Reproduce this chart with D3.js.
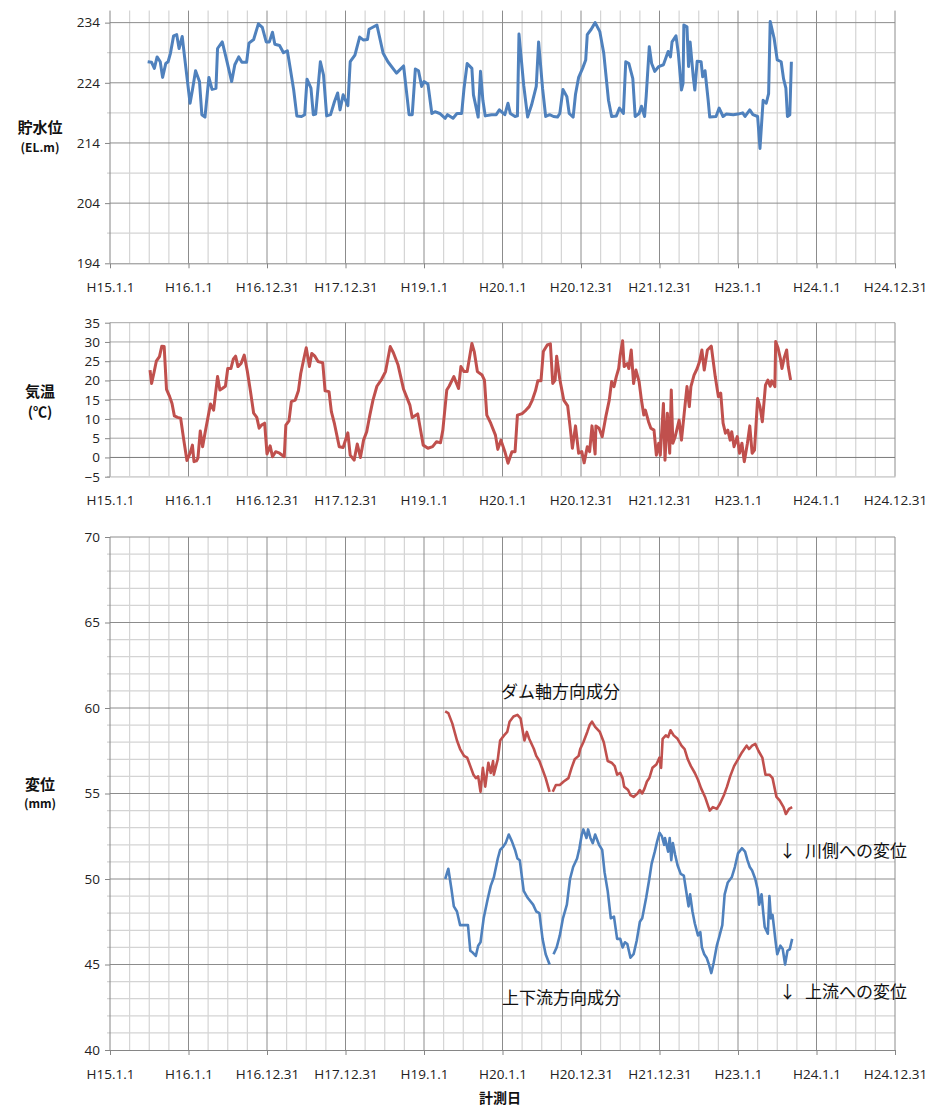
<!DOCTYPE html>
<html lang="ja">
<head>
<meta charset="utf-8">
<script src="https://d3js.org/d3.v7.min.js"></script>
<style>
  body { margin: 0; background: #fff; }
  svg { display: block; }
  .tick text { font-family: "Open Sans", "Liberation Sans", sans-serif; font-size: 13.5px; fill: #222; }
  .ttl { font-family: "Noto Sans CJK JP", sans-serif; font-weight: bold; fill: #111; }
  .note { font-family: "Noto Sans CJK JP", sans-serif; font-size: 17px; fill: #111; }
</style>
</head>
<body>
<svg id="chart" width="930" height="1115"></svg>
<script>
// x values are years counted from H15.1.1
const xTickLabels = ['H15.1.1', 'H16.1.1', 'H16.12.31', 'H17.12.31', 'H19.1.1', 'H20.1.1',
  'H20.12.31', 'H21.12.31', 'H23.1.1', 'H24.1.1', 'H24.12.31'];

// 貯水位 (EL.m)
const levelYears = [0.48,0.53,0.565,0.60,0.64,0.67,0.71,0.74,0.77,0.81,0.85,0.88,0.92,0.95,1.02,1.05,1.09,1.14,1.17,1.21,
  1.26,1.30,1.35,1.37,1.43,1.48,1.55,1.59,1.64,1.68,1.74,1.77,1.83,1.89,1.94,1.99,2.03,2.07,2.10,2.16,
  2.21,2.26,2.30,2.34,2.38,2.44,2.48,2.51,2.56,2.59,2.62,2.68,2.72,2.76,2.81,2.86,2.90,2.93,2.97,3.03,
  3.06,3.12,3.18,3.23,3.28,3.30,3.40,3.48,3.54,3.65,3.74,3.81,3.85,3.89,3.93,3.97,4.00,4.05,4.10,4.14,
  4.20,4.27,4.30,4.37,4.42,4.48,4.51,4.55,4.61,4.63,4.69,4.72,4.75,4.78,4.86,4.92,4.96,5.03,5.07,5.10,
  5.16,5.19,5.21,5.27,5.32,5.37,5.43,5.46,5.51,5.55,5.60,5.65,5.70,5.73,5.77,5.82,5.85,5.90,5.93,5.97,
  6.02,6.06,6.08,6.13,6.18,6.24,6.29,6.35,6.39,6.45,6.49,6.54,6.57,6.61,6.66,6.69,6.74,6.77,6.81,6.83,
  6.87,6.90,6.94,6.99,7.05,7.11,7.14,7.16,7.21,7.24,7.28,7.30,7.31,7.35,7.37,7.39,7.43,7.45,7.48,7.53,
  7.55,7.58,7.62,7.64,7.72,7.76,7.81,7.85,7.94,8.00,8.06,8.09,8.15,8.19,8.25,8.28,8.32,8.36,8.39,8.41,
  8.46,8.50,8.55,8.58,8.61,8.63,8.66,8.68];
const levelValues = [227.5,227.4,226.4,228.3,227.5,224.9,227.2,227.5,228.9,231.8,232.0,229.7,231.7,228.3,220.6,222.8,226.0,224.2,218.7,218.3,
  224.9,222.9,223.1,229.7,230.8,228.1,224.2,227.0,228.3,227.4,227.4,230.6,231.2,233.8,233.2,230.8,230.8,232.4,230.4,230.2,
  229.0,229.3,226.1,222.8,218.5,218.4,218.7,224.6,223.1,218.7,218.8,227.5,225.3,218.5,218.7,220.9,222.3,219.5,222.0,220.2,
  227.5,228.6,231.6,231.1,231.2,232.9,233.6,228.9,227.5,225.6,226.8,218.7,218.7,226.3,226.0,223.4,224.2,223.8,218.9,219.2,
  218.9,218.1,218.7,218.1,218.9,218.9,223.1,227.2,226.4,222.0,218.3,225.9,221.1,218.5,218.7,218.7,219.5,218.7,220.6,218.9,
  218.4,218.5,232.1,223.6,218.3,220.3,223.4,230.8,223.1,218.4,218.7,218.4,218.3,218.9,222.9,221.7,218.9,218.3,222.1,224.9,
  226.4,227.8,232.0,232.9,234.0,232.5,228.9,221.1,218.4,218.5,219.8,218.9,227.5,227.2,224.7,218.4,218.9,220.1,218.4,221.7,
  230.0,227.2,225.9,226.7,227.0,229.2,228.3,230.8,231.8,228.9,222.8,223.9,233.6,233.3,226.7,230.8,225.0,222.8,227.6,227.5,
  225.0,226.0,221.1,218.3,218.4,219.8,218.4,218.8,218.7,218.8,219.0,218.4,219.5,218.7,218.4,213.1,221.1,220.6,222.2,234.2,
  231.4,227.8,227.5,224.7,223.1,218.4,218.7,227.5];

// 気温 (℃)
const tempYears = [0.51,0.53,0.56,0.59,0.63,0.66,0.69,0.72,0.76,0.79,0.82,0.86,0.90,0.94,0.98,1.02,1.05,1.07,1.10,1.12,
  1.15,1.18,1.21,1.25,1.28,1.32,1.34,1.37,1.40,1.43,1.47,1.50,1.54,1.57,1.60,1.63,1.67,1.71,1.75,1.79,
  1.83,1.87,1.90,1.93,1.97,2.00,2.04,2.07,2.11,2.16,2.22,2.24,2.28,2.31,2.36,2.40,2.43,2.47,2.50,2.54,
  2.57,2.61,2.65,2.71,2.74,2.79,2.82,2.86,2.92,2.97,3.03,3.06,3.11,3.15,3.19,3.23,3.27,3.31,3.35,3.40,
  3.46,3.51,3.57,3.61,3.67,3.74,3.82,3.85,3.92,3.96,3.99,4.05,4.11,4.16,4.21,4.24,4.29,4.32,4.38,4.44,
  4.47,4.51,4.55,4.61,4.64,4.68,4.74,4.77,4.80,4.85,4.91,4.94,4.98,5.03,5.07,5.12,5.16,5.19,5.25,5.30,
  5.34,5.38,5.42,5.45,5.49,5.52,5.57,5.61,5.64,5.67,5.69,5.73,5.78,5.83,5.86,5.89,5.93,5.97,6.01,6.04,
  6.08,6.11,6.14,6.18,6.19,6.23,6.27,6.32,6.36,6.39,6.42,6.45,6.48,6.50,6.53,6.55,6.59,6.61,6.64,6.67,
  6.70,6.74,6.77,6.80,6.82,6.86,6.89,6.93,6.96,6.99,7.01,7.05,7.07,7.10,7.13,7.15,7.17,7.20,7.25,7.28,
  7.33,7.35,7.38,7.40,7.44,7.48,7.51,7.54,7.57,7.61,7.66,7.68,7.71,7.75,7.78,7.81,7.84,7.87,7.90,7.92,
  7.95,7.99,8.02,8.05,8.08,8.12,8.15,8.18,8.21,8.25,8.28,8.31,8.35,8.38,8.41,8.43,8.47,8.48,8.51,8.54,
  8.56,8.59,8.62,8.64,8.67];
const tempValues = [22.7,19.2,22.0,25.0,26.2,28.9,28.8,17.7,15.8,14.0,10.8,10.4,10.2,4.5,-0.8,1.1,3.2,-1.1,-0.9,-0.2,
  6.9,2.8,6.3,10.6,13.9,12.3,15.8,21.0,17.5,17.9,18.5,23.1,23.1,25.5,26.3,23.6,24.4,26.6,22.3,17.1,
  11.5,10.4,7.6,8.4,8.9,0.9,3.0,0.2,1.5,1.1,0.2,8.4,9.5,14.5,14.9,17.3,21.8,25.7,28.5,23.6,
  27.0,26.3,24.9,24.6,17.3,17.1,11.9,8.7,2.8,2.6,6.4,0.6,-0.7,3.5,0.0,4.5,6.7,11.0,14.9,18.5,
  20.3,22.3,28.8,27.2,24.0,17.7,13.6,10.4,11.3,6.7,3.2,2.4,2.8,4.1,3.8,7.1,17.5,18.5,21.0,17.9,
  23.6,22.3,22.3,29.6,27.5,22.3,21.4,20.1,11.0,8.9,5.8,2.1,4.5,1.5,-1.5,1.5,1.5,11.0,11.4,12.3,
  13.2,14.9,17.3,19.9,19.9,27.5,29.2,29.5,19.2,20.1,26.3,20.3,14.9,13.4,8.2,2.4,8.2,1.1,1.5,-1.4,
  2.8,1.5,8.2,0.9,8.2,7.6,5.4,11.0,14.9,19.7,18.4,21.0,23.1,26.6,30.3,23.6,24.4,23.1,27.9,19.2,
  22.7,19.7,14.9,11.0,12.3,9.3,7.6,7.1,0.6,3.7,0.6,14.0,-0.7,11.5,1.1,17.5,3.7,5.4,9.7,4.5,
  14.5,18.4,13.2,18.4,21.4,23.1,24.9,27.9,22.7,27.9,28.9,25.7,21.0,15.8,16.7,8.9,6.3,7.1,4.5,6.7,
  2.8,5.4,1.1,3.7,-1.1,3.7,8.2,1.1,1.9,15.3,13.2,9.3,18.8,20.1,18.5,19.9,18.4,30.1,28.4,25.7,
  23.1,26.0,27.9,23.6,20.1];

// 変位 (mm) ダム軸方向成分, null = 欠測
const axialYears = [4.27,4.31,4.36,4.42,4.46,4.51,4.55,4.59,4.63,4.66,4.69,4.72,4.75,4.78,4.82,4.85,4.88,4.89,4.94,4.97,
  5.02,5.06,5.09,5.14,5.19,5.23,5.26,5.28,5.31,5.34,5.40,5.43,5.47,5.51,5.55,5.60,5.62,5.64,5.68,5.73,
  5.78,5.84,5.88,5.92,5.97,5.99,6.03,6.08,6.11,6.14,6.18,6.24,6.29,6.34,6.39,6.43,6.46,6.50,6.53,6.55,
  6.60,6.63,6.67,6.72,6.75,6.78,6.81,6.84,6.87,6.91,6.96,7.00,7.02,7.04,7.08,7.11,7.14,7.18,7.23,7.28,
  7.32,7.36,7.40,7.45,7.49,7.53,7.58,7.64,7.68,7.73,7.77,7.82,7.86,7.90,7.95,8.00,8.05,8.11,8.14,8.18,
  8.22,8.26,8.31,8.35,8.40,8.44,8.49,8.53,8.58,8.61,8.65,8.69];
const axialValues = [59.8,59.7,59.1,58.1,57.6,57.2,57.1,56.6,56.1,55.9,56.0,55.1,56.5,55.4,56.8,56.2,56.9,56.1,57.0,58.1,
  58.4,58.6,59.2,59.5,59.6,59.4,58.6,58.1,58.6,58.2,57.6,57.2,56.9,56.4,55.9,55.1,null,55.1,55.5,55.5,
  55.7,55.9,56.5,57.0,57.2,57.6,58.0,58.6,59.0,59.2,58.9,58.6,58.0,56.9,56.8,56.6,56.1,56.2,55.9,55.4,
  55.2,54.9,54.8,55.0,55.2,55.0,55.3,55.7,55.9,56.5,56.7,57.1,56.5,58.2,58.4,58.3,58.7,58.4,58.2,57.8,
  57.6,57.0,56.6,56.2,55.8,55.3,54.8,54.0,54.2,54.1,54.4,54.9,55.4,56.0,56.6,57.0,57.4,57.8,57.6,57.8,
  57.9,57.5,57.1,56.1,56.1,55.9,54.8,54.6,54.2,53.8,54.1,54.2];

// 変位 (mm) 上下流方向成分
const streamYears = [4.27,4.31,4.35,4.38,4.42,4.46,4.53,4.56,4.59,4.62,4.66,4.69,4.72,4.76,4.81,4.85,4.89,4.94,4.97,5.01,
  5.04,5.08,5.12,5.16,5.19,5.22,5.27,5.32,5.39,5.43,5.47,5.51,5.55,5.60,5.62,5.65,5.69,5.73,5.77,5.82,
  5.86,5.90,5.95,5.98,6.01,6.03,6.07,6.09,6.12,6.15,6.18,6.23,6.27,6.30,6.34,6.38,6.42,6.46,6.50,6.53,
  6.56,6.59,6.63,6.67,6.71,6.75,6.78,6.83,6.87,6.90,6.94,6.97,7.00,7.03,7.06,7.07,7.11,7.13,7.15,7.17,
  7.20,7.23,7.27,7.31,7.34,7.37,7.39,7.42,7.45,7.49,7.52,7.54,7.57,7.60,7.63,7.66,7.69,7.73,7.76,7.80,
  7.83,7.87,7.92,7.96,8.00,8.05,8.09,8.12,8.15,8.18,8.22,8.25,8.27,8.30,8.32,8.34,8.38,8.40,8.42,8.44,
  8.48,8.50,8.54,8.57,8.60,8.63,8.66,8.69];
const streamValues = [50.0,50.6,49.4,48.4,48.1,47.3,47.3,47.3,45.8,45.7,45.5,46.1,46.3,47.7,48.8,49.6,50.1,51.2,51.7,51.9,
  52.1,52.6,52.2,51.7,51.2,51.1,49.3,48.9,48.5,48.1,48.0,46.5,45.6,45.0,null,45.6,46.0,46.7,47.7,48.5,
  50.0,50.7,51.2,51.8,52.6,52.9,52.4,52.9,52.4,52.1,52.6,52.0,51.7,50.4,49.3,47.7,47.8,46.5,46.5,46.0,
  46.3,46.2,45.4,45.6,46.4,47.5,47.7,48.9,50.0,50.9,51.6,52.2,52.7,52.5,52.0,52.4,51.6,52.4,51.1,52.1,
  51.4,50.8,50.3,50.2,49.3,48.4,49.1,48.1,47.4,46.7,46.9,46.0,45.6,45.4,45.0,44.5,45.1,46.1,46.6,47.3,
  49.1,49.8,50.1,50.7,51.5,51.8,51.6,51.1,50.7,50.5,50.0,49.4,48.5,49.1,48.1,47.2,46.8,49.0,47.7,47.9,
  46.3,45.6,46.1,45.9,45.0,45.8,45.9,46.5];

const svg = d3.select('#chart');
const x = d3.scaleLinear().domain([0, 10]).range([110, 895]);

function drawPanel(p) {
  const y = d3.scaleLinear().domain(p.yDomain).range(p.yRange);
  const g = svg.append('g');

  // minor vertical grid (quarters)
  g.selectAll('.vmin').data(d3.range(0, 10.01, 0.25).filter(v => v % 1 !== 0))
    .enter().append('line')
    .attr('x1', d => x(d)).attr('x2', d => x(d))
    .attr('y1', y(p.yDomain[1])).attr('y2', y(p.yDomain[0]))
    .attr('stroke', '#d4d4d4').attr('stroke-width', 1.2);

  // horizontal grid
  g.selectAll('.hmin').data(p.minorY)
    .enter().append('line')
    .attr('x1', x(0) - 3).attr('x2', x(10))
    .attr('y1', d => y(d)).attr('y2', d => y(d))
    .attr('stroke', '#d4d4d4').attr('stroke-width', 1.2);
  g.selectAll('.hmaj').data(p.majorY)
    .enter().append('line')
    .attr('x1', x(0)).attr('x2', x(10))
    .attr('y1', d => y(d)).attr('y2', d => y(d))
    .attr('stroke', p.majorColor).attr('stroke-width', 1);

  // major vertical grid (years)
  g.selectAll('.vmaj').data(d3.range(1, 11))
    .enter().append('line')
    .attr('x1', d => x(d)).attr('x2', d => x(d))
    .attr('y1', y(p.yDomain[1])).attr('y2', y(p.yDomain[0]))
    .attr('stroke', '#8c8c8c').attr('stroke-width', 1);

  if (p.zeroLine !== undefined) {
    g.append('line')
      .attr('x1', x(0)).attr('x2', x(10))
      .attr('y1', y(p.zeroLine)).attr('y2', y(p.zeroLine))
      .attr('stroke', '#7a7a7a').attr('stroke-width', 1);
  }

  // axes
  const ya = g.append('g')
    .attr('transform', 'translate(' + x(0) + ',0)')
    .call(d3.axisLeft(y).tickValues(p.yTicks).tickSize(5).tickSizeOuter(0).tickPadding(5));
  ya.select('.domain').attr('stroke', '#868686').attr('d', 'M0,' + y(p.yDomain[1]) + 'V' + y(p.yDomain[0]));
  ya.selectAll('.tick line').attr('stroke', '#868686');

  const xa = g.append('g')
    .attr('transform', 'translate(0,' + y(p.yDomain[0]) + ')')
    .call(d3.axisBottom(x).tickValues(d3.range(0, 11)).tickFormat(i => xTickLabels[i])
      .tickSize(p.xTickSize).tickSizeOuter(0).tickPadding(19 - p.xTickSize));
  xa.select('.domain').attr('stroke', p.xDomainColor);
  xa.selectAll('.tick line').attr('stroke', '#868686');

  // series
  p.series.forEach(s => {
    const pts = s.years.map((d, i) => [d, s.values[i]]);
    g.append('path')
      .datum(pts)
      .attr('fill', 'none')
      .attr('stroke', s.color)
      .attr('stroke-width', p.lineWidth)
      .attr('stroke-linejoin', 'round')
      .attr('d', d3.line().defined(d => d[1] !== null).x(d => x(d[0])).y(d => y(d[1])));
  });
  return y;
}

// panel 1: 貯水位
drawPanel({
  yDomain: [194, 236], yRange: [263.3, 10.6],
  yTicks: [194, 204, 214, 224, 234],
  majorY: [204, 214, 224, 234], minorY: [199, 209, 219, 229],
  majorColor: '#8c8c8c', xTickSize: 5, xDomainColor: '#868686', lineWidth: 3,
  series: [{ years: levelYears, values: levelValues, color: '#4f81bd' }]
});

// panel 2: 気温
drawPanel({
  yDomain: [-5, 35], yRange: [476.7, 322.7],
  yTicks: d3.range(-5, 36, 5),
  majorY: d3.range(5, 36, 5), minorY: [-5],
  majorColor: '#a6a6a6', xTickSize: 0, xDomainColor: '#d4d4d4', lineWidth: 3, zeroLine: 0,
  series: [{ years: tempYears, values: tempValues, color: '#c0504d' }]
});

// panel 3: 変位
drawPanel({
  yDomain: [40, 70], yRange: [1050, 537],
  yTicks: d3.range(40, 71, 5),
  majorY: d3.range(45, 71, 5), minorY: d3.range(41, 70, 1).filter(v => v % 5 !== 0),
  majorColor: '#8c8c8c', xTickSize: 5, xDomainColor: '#868686', lineWidth: 2.6,
  series: [
    { years: axialYears, values: axialValues, color: '#c0504d' },
    { years: streamYears, values: streamValues, color: '#4f81bd' }
  ]
});

// titles
const titles = [
  ['貯水位', 40, 133, 15], ['(EL.m)', 40, 152, 12],
  ['気温', 40, 397, 15], ['(℃)', 40, 417, 14],
  ['変位', 40, 790, 15], ['(mm)', 40, 808, 12],
  ['計測日', 500, 1103, 14]
];
svg.selectAll('.ttl').data(titles).enter().append('text')
  .attr('class', 'ttl')
  .attr('x', d => d[1]).attr('y', d => d[2])
  .attr('text-anchor', 'middle')
  .style('font-size', d => d[3] + 'px')
  .text(d => d[0]);

const notes = [
  ['ダム軸方向成分', 501, 698],
  ['上下流方向成分', 502, 1004],
  ['↓', 779, 857], ['川側への変位', 805, 857],
  ['↓', 779, 998], ['上流への変位', 805, 998]
];
svg.selectAll('.note').data(notes).enter().append('text')
  .attr('class', 'note')
  .attr('x', d => d[1]).attr('y', d => d[2])
  .text(d => d[0]);
</script>
</body>
</html>
